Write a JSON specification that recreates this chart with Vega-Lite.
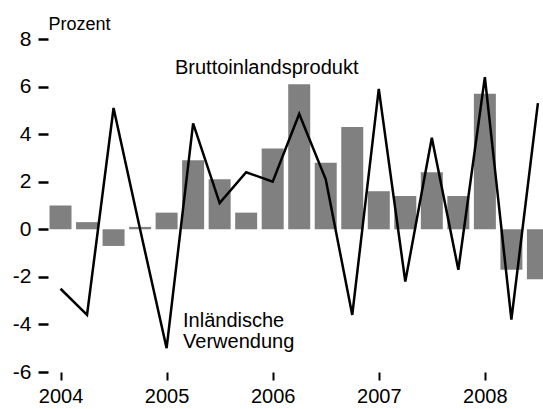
{
  "$schema": "https://vega.github.io/schema/vega-lite/v6.json",
  "width": 495,
  "height": 333,
  "autosize": {"type": "none"},
  "padding": {"left": 48, "top": 39, "right": 0, "bottom": 37},
  "background": "white",
  "config": {"view": {"stroke": null}, "font": "Liberation Sans"},
  "datasets": {
    "series": [
      {"t": 2004.0, "bip": 1.0, "inl": -2.5},
      {"t": 2004.25, "bip": 0.3, "inl": -3.6},
      {"t": 2004.5, "bip": -0.7, "inl": 5.1},
      {"t": 2004.75, "bip": 0.1, "inl": 0.0},
      {"t": 2005.0, "bip": 0.7, "inl": -5.0},
      {"t": 2005.25, "bip": 2.9, "inl": 4.45},
      {"t": 2005.5, "bip": 2.1, "inl": 1.1},
      {"t": 2005.75, "bip": 0.7, "inl": 2.4},
      {"t": 2006.0, "bip": 3.4, "inl": 2.0},
      {"t": 2006.25, "bip": 6.1, "inl": 4.85},
      {"t": 2006.5, "bip": 2.8, "inl": 2.1},
      {"t": 2006.75, "bip": 4.3, "inl": -3.6},
      {"t": 2007.0, "bip": 1.6, "inl": 5.9},
      {"t": 2007.25, "bip": 1.4, "inl": -2.2},
      {"t": 2007.5, "bip": 2.4, "inl": 3.85},
      {"t": 2007.75, "bip": 1.4, "inl": -1.7},
      {"t": 2008.0, "bip": 5.7, "inl": 6.4},
      {"t": 2008.25, "bip": -1.7, "inl": -3.8},
      {"t": 2008.5, "bip": -2.1, "inl": 5.3}
    ],
    "labels": [
      {"t": 2005.079, "v": 6.52, "label": "Bruttoinlandsprodukt"},
      {"t": 2005.155, "v": -4.1, "label": "Inländische"},
      {"t": 2005.155, "v": -5.0, "label": "Verwendung"}
    ]
  },
  "layer": [
    {
      "data": {"name": "series"},
      "mark": {"type": "bar", "width": 22, "color": "#808080"},
      "encoding": {
        "x": {
          "field": "t",
          "type": "quantitative",
          "scale": {"domain": [2003.882, 2008.548], "nice": false, "zero": false, "padding": 0},
          "axis": {
            "values": [2004, 2005, 2006, 2007, 2008],
            "format": "d",
            "domain": false,
            "grid": false,
            "tickSize": 8,
            "tickWidth": 2,
            "tickColor": "black",
            "labelFontSize": 20,
            "labelColor": "black",
            "labelPadding": 6,
            "labelFlush": false,
            "labelOverlap": false,
            "title": null
          }
        },
        "y": {
          "field": "bip",
          "type": "quantitative",
          "scale": {"domain": [-6, 8], "nice": false, "padding": 0},
          "axis": {
            "values": [-6, -4, -2, 0, 2, 4, 6, 8],
            "labelExpr": "'' + datum.value",
            "domain": false,
            "grid": false,
            "tickSize": 10,
            "tickWidth": 2.5,
            "tickColor": "black",
            "labelFontSize": 21,
            "labelColor": "black",
            "labelPadding": 7,
            "title": "Prozent",
            "titleAngle": 0,
            "titleAlign": "left",
            "titleBaseline": "alphabetic",
            "titleX": 0,
            "titleY": -10,
            "titleFontSize": 18,
            "titleFontWeight": "normal",
            "titleColor": "black"
          }
        }
      }
    },
    {
      "data": {"name": "series"},
      "mark": {"type": "line", "color": "black", "strokeWidth": 2.5},
      "encoding": {
        "x": {"field": "t", "type": "quantitative"},
        "y": {"field": "inl", "type": "quantitative"}
      }
    },
    {
      "data": {"name": "labels"},
      "mark": {"type": "text", "align": "left", "baseline": "alphabetic", "fontSize": 20, "color": "black"},
      "encoding": {
        "x": {"field": "t", "type": "quantitative"},
        "y": {"field": "v", "type": "quantitative"},
        "text": {"field": "label"}
      }
    }
  ]
}
